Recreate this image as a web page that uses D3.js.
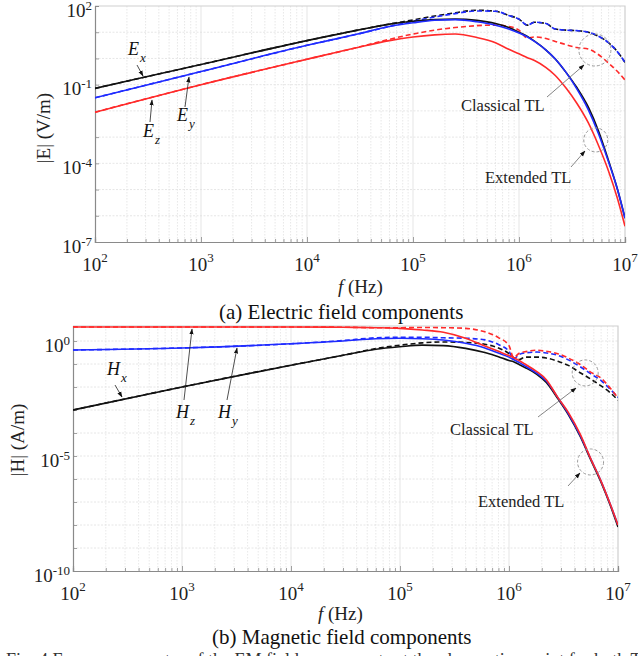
<!DOCTYPE html>
<html>
<head>
<meta charset="utf-8">
<script src="https://cdn.jsdelivr.net/npm/d3@7"></script>
<style>
  html, body { margin: 0; padding: 0; background: #fff; }
  svg { display: block; font-family: "Liberation Serif", "Times New Roman", serif; }
</style>
</head>
<body>
<svg id="fig" width="638" height="656"></svg>
<script>
// ---------- Electric field |E| (V/m) versus frequency (Hz) ----------
const freqE = [1e2, 1e3, 1e4, 3e4, 6e4, 1e5, 1.6e5, 2.5e5, 4e5, 6e5, 8e5, 1e6,
               1.2e6, 1.4e6, 1.8e6, 2.2e6, 2.8e6, 3.5e6, 4.5e6, 5.6e6, 7e6, 8.5e6, 1e7];
// extended TL (solid)
const exExt = [0.0724, 0.589, 4.79, 12.0, 20.4, 26.3, 30.2, 31.6, 28.2, 21.4, 15.1, 10.0,
               6.92, 4.57, 2.09, 0.955, 0.282, 0.0794, 0.0141, 1.78e-3, 1.26e-4, 1.0e-5, 8.1e-7];
const eyExt = [0.0316, 0.316, 3.16, 8.51, 16.6, 22.9, 28.8, 30.2, 25.1, 18.6, 13.2, 9.33,
               6.61, 4.47, 2.09, 0.955, 0.282, 0.0708, 0.0112, 1.41e-3, 1.12e-4, 1.0e-5, 8.1e-7];
const ezExt = [8.91e-3, 0.1, 0.933, 2.63, 4.79, 6.61, 7.94, 8.51, 6.31, 3.98, 2.24, 1.51,
               1.07, 0.832, 0.447, 0.224, 0.0708, 0.02, 3.55e-3, 5.01e-4, 5.01e-5, 4.47e-6, 3.98e-7];
// classical TL (dashed)
const exCls = [0.0724, 0.589, 4.79, 12.0, 20.4, 29.5, 41.7, 55.0, 69.2, 63.1, 43.7, 31.6,
               18.6, 24.0, 21.4, 13.2, 12.0, 11.5, 10.0, 7.08, 3.98, 1.78, 0.708];
const eyCls = [0.0316, 0.316, 3.16, 8.51, 16.6, 26.3, 38.0, 51.3, 64.6, 63.1, 43.7, 31.6,
               18.6, 24.0, 21.4, 13.2, 12.0, 11.5, 10.0, 7.08, 3.98, 1.78, 0.708];
const ezCls = [8.91e-3, 0.1, 0.933, 2.63, 5.37, 8.51, 12.0, 15.1, 17.8, 18.6, 16.6, 12.0,
               6.03, 6.61, 5.75, 4.47, 3.31, 2.63, 2.29, 1.41, 0.661, 0.316, 0.151];

// ---------- Magnetic field |H| (A/m) versus frequency (Hz) ----------
const freqH = [1e2, 1e3, 1e4, 3e4, 6e4, 1e5, 1.6e5, 2.5e5, 4e5, 6e5, 8e5, 1e6, 1.1e6,
               1.25e6, 1.4e6, 1.8e6, 2.2e6, 2.8e6, 3.5e6, 4.5e6, 5.6e6, 7e6, 8.5e6, 1e7];
const hxExt = [1.0e-3, 0.01, 0.0891, 0.240, 0.437, 0.562, 0.661, 0.631, 0.479, 0.316, 0.209, 0.141, 0.126,
               0.0933, 0.0708, 0.0355, 0.0158, 3.16e-3, 6.31e-4, 7.08e-5, 7.08e-6, 7.08e-7, 7.08e-8, 8.13e-9];
const hyExt = [0.407, 0.501, 0.759, 1.0, 1.26, 1.32, 1.26, 1.10, 0.794, 0.501, 0.302, 0.2, 0.158,
               0.115, 0.0832, 0.0398, 0.0182, 3.55e-3, 7.08e-4, 7.94e-5, 7.94e-6, 7.94e-7, 7.94e-8, 1.0e-8];
const hzExt = [4.07, 4.07, 4.07, 3.98, 3.80, 3.55, 3.02, 2.40, 1.32, 0.603, 0.355, 0.234, 0.191,
               0.138, 0.1, 0.0468, 0.0209, 3.55e-3, 7.94e-4, 8.91e-5, 7.94e-6, 7.94e-7, 7.94e-8, 1.0e-8];
const hxCls = [1.0e-3, 0.01, 0.0891, 0.240, 0.468, 0.661, 0.832, 0.912, 0.871, 0.724, 0.501, 0.282, 0.191,
               0.158, 0.2, 0.2, 0.182, 0.132, 0.0871, 0.0417, 0.0224, 0.0112, 5.62e-3, 2.69e-3];
const hyCls = [0.407, 0.501, 0.759, 1.05, 1.38, 1.45, 1.45, 1.38, 1.32, 1.12, 0.708, 0.355, 0.166,
               0.263, 0.302, 0.331, 0.302, 0.24, 0.151, 0.0759, 0.038, 0.0191, 7.94e-3, 3.55e-3];
const hzCls = [4.07, 4.07, 4.07, 3.98, 3.80, 3.80, 3.89, 3.80, 3.55, 2.51, 1.41, 0.631, 0.191,
               0.302, 0.339, 0.398, 0.355, 0.282, 0.182, 0.0955, 0.0447, 0.024, 8.91e-3, 3.31e-3];

// axis tick exponents
const xTickExp = [2, 3, 4, 5, 6, 7];
const yTickExpE = [2, -1, -4, -7];
const yTickExpH = [0, -5, -10];

const COL = { x: "#111111", y: "#1f2bff", z: "#ff2a2a" };

const svg = d3.select("#fig");
const defs = svg.append("defs");
defs.append("marker")
  .attr("id", "ah").attr("viewBox", "0 0 10 10").attr("refX", 9).attr("refY", 5)
  .attr("markerWidth", 6).attr("markerHeight", 6).attr("markerUnits", "userSpaceOnUse")
  .attr("orient", "auto")
  .append("path").attr("d", "M0,1.5L10,5L0,8.5z").attr("fill", "#111");

function pow10Label(sel, exp, supSize, supDy) {
  sel.append("tspan").text("10");
  sel.append("tspan").attr("font-size", supSize).attr("dy", supDy).text(String(exp));
}

function drawPanel(p) {
  const x = d3.scaleLog().domain([1e2, 1e7]).range([p.left, p.right]);
  const y = d3.scaleLog().domain(p.yDomain).range([p.bottom, p.top]);
  const g = svg.append("g");

  // grid
  const minor = [];
  for (let e = 2; e < 7; e++) for (let m = 2; m < 10; m++) minor.push(m * Math.pow(10, e));
  const decX = d3.range(3, 7).map(e => Math.pow(10, e));
  const decY = d3.range(p.yGridExp[0], p.yGridExp[1] + 1).map(e => Math.pow(10, e));
  g.append("g").selectAll("line").data(minor).join("line")
    .attr("x1", d => x(d)).attr("x2", d => x(d)).attr("y1", p.top).attr("y2", p.bottom)
    .attr("stroke", "#e2e2e2").attr("stroke-width", 0.8).attr("stroke-dasharray", "1.5,1.5");
  g.append("g").selectAll("line").data(decX).join("line")
    .attr("x1", d => x(d)).attr("x2", d => x(d)).attr("y1", p.top).attr("y2", p.bottom)
    .attr("stroke", "#dedede").attr("stroke-width", 0.8);
  g.append("g").selectAll("line").data(decY).join("line")
    .attr("x1", p.left).attr("x2", p.right).attr("y1", d => y(d)).attr("y2", d => y(d))
    .attr("stroke", "#e0e0e0").attr("stroke-width", 0.8).attr("stroke-dasharray", "2,1.5");

  // top / right frame
  g.append("path")
    .attr("d", `M${p.left},${p.top}H${p.right}V${p.bottom}`)
    .attr("fill", "none").attr("stroke", "#cfcfcf").attr("stroke-width", 1.2);

  // axes (ticks point inward)
  const axB = g.append("g").attr("transform", `translate(0,${p.bottom})`)
    .call(d3.axisBottom(x).tickValues(minor).tickSize(-3).tickFormat(""));
  const axB2 = g.append("g").attr("transform", `translate(0,${p.bottom})`)
    .call(d3.axisBottom(x).tickValues(xTickExp.map(e => Math.pow(10, e))).tickSize(-5).tickFormat(""));
  const axL = g.append("g").attr("transform", `translate(${p.left},0)`)
    .call(d3.axisLeft(y).tickValues(decY).tickSize(-4).tickFormat(""));
  [axB, axB2, axL].forEach(a => {
    a.selectAll("path.domain").attr("stroke", "#8a8a8a").attr("stroke-width", 1.2);
    a.selectAll(".tick line").attr("stroke", "#8a8a8a").attr("stroke-width", 0.8);
  });

  // tick labels
  xTickExp.forEach(e => {
    const t = g.append("text").attr("x", x(Math.pow(10, e))).attr("y", p.bottom + 29)
      .attr("text-anchor", "middle").attr("font-size", 19).attr("fill", "#222");
    pow10Label(t, e, 13, -9);
  });
  p.yTickExp.forEach(e => {
    const t = g.append("text").attr("x", p.left - 3).attr("y", y(Math.pow(10, e)) + 10.5)
      .attr("text-anchor", "end").attr("font-size", 19).attr("fill", "#222");
    pow10Label(t, e, 13, -7);
  });

  // axis titles
  g.append("text")
    .attr("transform", `translate(${p.yTitleX},${p.yTitleY}) rotate(-90)`)
    .attr("text-anchor", "middle").attr("font-size", 19).attr("fill", "#222")
    .text(p.yTitle);
  const xt = g.append("text").attr("x", p.xTitleX).attr("y", p.xTitleY)
    .attr("font-size", 19).attr("fill", "#222");
  xt.append("tspan").attr("font-style", "italic").text("f");
  xt.append("tspan").text(" (Hz)");

  // curves
  const line = d3.line().x(d => x(d[0])).y(d => y(d[1])).curve(d3.curveMonotoneX);
  const clip = "clip" + p.id;
  defs.append("clipPath").attr("id", clip).append("rect")
    .attr("x", p.left).attr("y", p.top).attr("width", p.right - p.left).attr("height", p.bottom - p.top);
  const cg = g.append("g").attr("clip-path", `url(#${clip})`);
  p.series.forEach(s => {
    cg.append("path")
      .datum(p.freq.map((f, i) => [f, s.v[i]]))
      .attr("d", line).attr("fill", "none")
      .attr("stroke", COL[s.c]).attr("stroke-width", 1.6)
      .attr("stroke-dasharray", s.dash ? "5,3" : null);
  });

  // marked regions and notes
  p.circles.forEach(c => {
    g.append("circle").attr("cx", x(c.f)).attr("cy", y(c.v)).attr("r", c.r)
      .attr("fill", "none").attr("stroke", "#9a9a9a").attr("stroke-width", 1)
      .attr("stroke-dasharray", "3,2");
  });
  p.notes.forEach(n => {
    g.append("text").attr("x", n.x).attr("y", n.y).attr("font-size", 16.5).attr("fill", "#222").text(n.text);
    g.append("line").attr("x1", n.a[0]).attr("y1", n.a[1]).attr("x2", n.a[2]).attr("y2", n.a[3])
      .attr("stroke", "#777").attr("stroke-width", 0.9).attr("marker-end", "url(#ah)");
  });
  p.tags.forEach(t => {
    const tx = g.append("text").attr("x", t.x).attr("y", t.y).attr("font-size", 18)
      .attr("font-style", "italic").attr("fill", "#111");
    tx.append("tspan").text(t.sym);
    tx.append("tspan").attr("font-size", 13).attr("dx", 1).attr("dy", 7).text(t.sub);
    g.append("line").attr("x1", t.a[0]).attr("y1", t.a[1]).attr("x2", t.a[2]).attr("y2", t.a[3])
      .attr("stroke", "#222").attr("stroke-width", 0.8).attr("marker-end", "url(#ah)");
  });

  g.append("text").attr("x", p.capX).attr("y", p.capY).attr("font-size", 21).attr("fill", "#111")
    .text(p.caption);
}

drawPanel({
  id: "E", left: 95, right: 625, top: 6, bottom: 242,
  yDomain: [1e-7, 1e2], yGridExp: [-6, 1], yTickExp: yTickExpE,
  yTitle: "|E| (V/m)", yTitleX: 50, yTitleY: 128,
  xTitleX: 338, xTitleY: 293,
  freq: freqE,
  series: [
    { v: ezCls, c: "z", dash: true }, { v: exCls, c: "x", dash: true }, { v: eyCls, c: "y", dash: true },
    { v: ezExt, c: "z" }, { v: exExt, c: "x" }, { v: eyExt, c: "y" }
  ],
  circles: [{ f: 5.2e6, v: 2.1, r: 16 }, { f: 5.3e6, v: 7.8e-4, r: 12 }],
  notes: [
    { text: "Classical TL", x: 461, y: 111, a: [547, 97, 584, 65] },
    { text: "Extended TL", x: 485, y: 183, a: [571, 167, 585, 151] }
  ],
  tags: [
    { sym: "E", sub: "x", x: 128, y: 55, a: [137, 65, 143, 76] },
    { sym: "E", sub: "y", x: 177, y: 121, a: [185, 107, 189, 77] },
    { sym: "E", sub: "z", x: 143, y: 137, a: [150, 122, 152, 100] }
  ],
  caption: "(a) Electric field components", capX: 219, capY: 319
});

drawPanel({
  id: "H", left: 73, right: 618, top: 326, bottom: 571,
  yDomain: [1e-10, 4.5], yGridExp: [-9, 0], yTickExp: yTickExpH,
  yTitle: "|H| (A/m)", yTitleX: 24, yTitleY: 440,
  xTitleX: 318, xTitleY: 620,
  freq: freqH,
  series: [
    { v: hxCls, c: "x", dash: true }, { v: hyCls, c: "y", dash: true }, { v: hzCls, c: "z", dash: true },
    { v: hxExt, c: "x" }, { v: hyExt, c: "y" }, { v: hzExt, c: "z" }
  ],
  circles: [{ f: 5.0e6, v: 0.041, r: 13 }, { f: 5.6e6, v: 5.5e-6, r: 13 }],
  notes: [
    { text: "Classical TL", x: 450, y: 435, a: [538, 417, 576, 388] },
    { text: "Extended TL", x: 478, y: 507, a: [568, 486, 580, 473] }
  ],
  tags: [
    { sym: "H", sub: "x", x: 107, y: 375, a: [115, 385, 122, 397] },
    { sym: "H", sub: "z", x: 176, y: 418, a: [184, 400, 192, 329] },
    { sym: "H", sub: "y", x: 218, y: 418, a: [227, 400, 237, 348] }
  ],
  caption: "(b) Magnetic field components", capX: 212, capY: 644
});

// figure caption line running off the bottom edge
svg.append("text").attr("x", 6).attr("y", 666).attr("font-size", 18).attr("fill", "#333")
  .text("Fig. 4 Frequency spectra of the EM field components at the observation point for both TL models");
</script>
</body>
</html>
